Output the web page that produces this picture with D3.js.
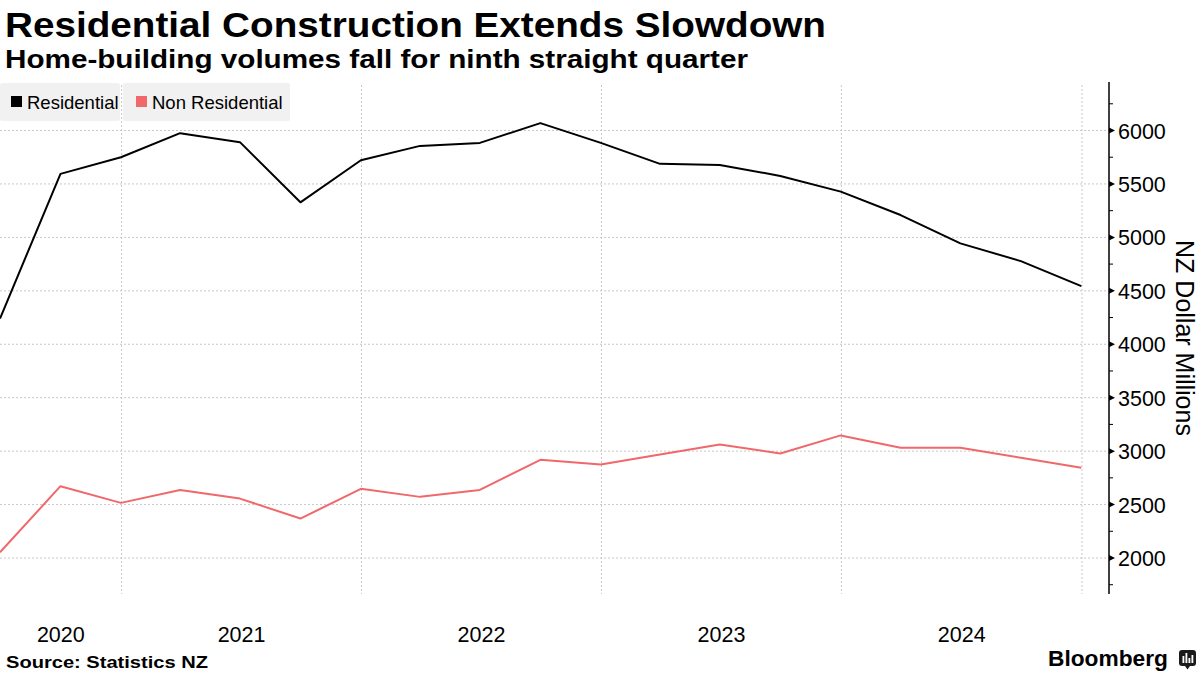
<!DOCTYPE html>
<html lang="en">

<head>
  <meta charset="utf-8">
  <title>Residential Construction Extends Slowdown</title>
  <script src="https://cdn.jsdelivr.net/npm/d3@7"></script>
  <style>
    body {
      margin: 0;
      background: #fff;
    }

    svg text {
      font-family: "Liberation Sans", Arial, sans-serif;
      fill: #000;
    }

    .grid line {
      stroke: #c8c8c8;
      stroke-width: 1;
      stroke-dasharray: 2, 2;
    }
  </style>
</head>

<body>
  <div id="chart"></div>
  <script>
    // quarterly data, quarter end dates
    const quarters = ['2020-06-30', '2020-09-30', '2020-12-31', '2021-03-31', '2021-06-30', '2021-09-30',
      '2021-12-31', '2022-03-31', '2022-06-30', '2022-09-30', '2022-12-31', '2023-03-31', '2023-06-30',
      '2023-09-30', '2023-12-31', '2024-03-31', '2024-06-30', '2024-09-30', '2024-12-31']
    const residential = [4241, 5594, 5750, 5975, 5891, 5328, 5722, 5856, 5884, 6069,
      5884, 5688, 5678, 5575, 5428, 5209, 4944, 4778, 4544]
    const nonResidential = [2053, 2672, 2516, 2637, 2556, 2369, 2647, 2572, 2637, 2919,
      2875, 2969, 3062, 2978, 3147, 3031, 3031, 2938, 2844]
    const seriesNames = ['Residential', 'Non Residential']
    const years = [2020, 2021, 2022, 2023, 2024]
    const yTicks = [2000, 2500, 3000, 3500, 4000, 4500, 5000, 5500, 6000]
    const yMinorTicks = [1750, 2250, 2750, 3250, 3750, 4250, 4750, 5250, 5750, 6250]

    const width = 1200
    const height = 675
    const colors = ['#000000', '#f0686b']

    const parse = d3.timeParse('%Y-%m-%d')
    const dates = quarters.map(parse)

    const plot = { left: 0, right: 1082, top: 85, bottom: 594 }
    const axisX = 1109

    const x = d3.scaleTime()
      .domain([parse('2020-06-30'), parse('2025-01-01')])
      .range([plot.left, plot.right])
    const y = d3.scaleLinear()
      .domain([2000, 6000])
      .range([558, 130.5])

    const svg = d3.select('#chart')
      .append('svg')
      .attr('width', width)
      .attr('height', height)

    // titles
    svg.append('text')
      .attr('x', 5).attr('y', 37)
      .attr('font-size', 35).attr('font-weight', 'bold')
      .attr('textLength', 821).attr('lengthAdjust', 'spacingAndGlyphs')
      .text('Residential Construction Extends Slowdown')
    svg.append('text')
      .attr('x', 5).attr('y', 68)
      .attr('font-size', 25.5).attr('font-weight', 'bold')
      .attr('textLength', 743).attr('lengthAdjust', 'spacingAndGlyphs')
      .text('Home-building volumes fall for ninth straight quarter')

    // grid
    const grid = svg.append('g').attr('class', 'grid')
    grid.selectAll('.h')
      .data(yTicks)
      .enter()
      .append('line')
      .attr('x1', 0).attr('x2', axisX)
      .attr('y1', d => y(d)).attr('y2', d => y(d))
    grid.selectAll('.v')
      .data(years.slice(1).concat([2025]))
      .enter()
      .append('line')
      .attr('x1', d => x(new Date(d, 0, 1))).attr('x2', d => x(new Date(d, 0, 1)))
      .attr('y1', plot.top).attr('y2', plot.bottom)

    // legend
    const legend = svg.append('g')
    const legendBoxes = [[0, 120], [123, 167]]
    legend.selectAll('rect.box')
      .data(legendBoxes)
      .enter()
      .append('rect')
      .attr('x', d => d[0]).attr('y', 83)
      .attr('width', d => d[1]).attr('height', 38)
      .attr('rx', 2)
      .attr('fill', '#f1f1f1')
    const legendX = [11, 136]
    seriesNames.forEach((name, i) => {
      legend.append('rect')
        .attr('x', legendX[i]).attr('y', 96)
        .attr('width', 11).attr('height', 11)
        .attr('fill', colors[i])
      legend.append('text')
        .attr('x', legendX[i] + 16).attr('y', 108.5)
        .attr('font-size', 18.5)
        .text(name)
    })

    // lines
    const line = d3.line()
      .x((d, i) => x(dates[i]))
      .y(d => y(d))
    ;[residential, nonResidential].forEach((values, i) => {
      svg.append('path')
        .datum(values)
        .attr('fill', 'none')
        .attr('stroke', colors[i])
        .attr('stroke-width', 2)
        .attr('stroke-linejoin', 'round')
        .attr('d', line)
    })

    // right axis
    const axis = svg.append('g')
    axis.append('line')
      .attr('x1', axisX).attr('x2', axisX)
      .attr('y1', plot.top - 3).attr('y2', plot.bottom)
      .attr('stroke', '#000').attr('stroke-width', 1.5)
    axis.selectAll('.minor')
      .data(yMinorTicks)
      .enter()
      .append('line')
      .attr('x1', axisX).attr('x2', axisX + 4)
      .attr('y1', d => y(d)).attr('y2', d => y(d))
      .attr('stroke', '#000').attr('stroke-width', 1)
    axis.selectAll('.major')
      .data(yTicks)
      .enter()
      .append('path')
      .attr('d', d => `M${axisX},${y(d) - 3}L${axisX + 6},${y(d)}L${axisX},${y(d) + 3}Z`)
      .attr('fill', '#000')
    axis.selectAll('.label')
      .data(yTicks)
      .enter()
      .append('text')
      .attr('x', axisX + 9)
      .attr('y', d => y(d) + 8)
      .attr('font-size', 21.5)
      .text(d => d)
    svg.append('text')
      .attr('transform', 'translate(1176, 338) rotate(90)')
      .attr('text-anchor', 'middle')
      .attr('font-size', 25)
      .text('NZ Dollar Millions')

    // year labels centred in each visible year
    svg.selectAll('.year')
      .data(years)
      .enter()
      .append('text')
      .attr('x', d => (Math.max(plot.left, x(new Date(d, 0, 1))) + x(new Date(d + 1, 0, 1))) / 2)
      .attr('y', 642)
      .attr('text-anchor', 'middle')
      .attr('font-size', 21.5)
      .text(d => d)

    // footer
    svg.append('text')
      .attr('x', 6).attr('y', 668)
      .attr('font-size', 17).attr('font-weight', 'bold')
      .attr('textLength', 202).attr('lengthAdjust', 'spacingAndGlyphs')
      .text('Source: Statistics NZ')
    svg.append('text')
      .attr('x', 1048).attr('y', 666)
      .attr('font-size', 22).attr('font-weight', 'bold')
      .attr('textLength', 120).attr('lengthAdjust', 'spacingAndGlyphs')
      .text('Bloomberg')
    const logo = svg.append('g').attr('transform', 'translate(1179, 650)')
    logo.append('rect')
      .attr('width', 17).attr('height', 16).attr('rx', 3)
      .attr('fill', '#1a1a1a')
    logo.append('path')
      .attr('d', 'M6,16L8.5,19.5L11,16Z')
      .attr('fill', '#1a1a1a')
    const bars = [[3.5, 6], [6.5, 3], [9.5, 8], [12.5, 5]]
    logo.selectAll('.bar')
      .data(bars)
      .enter()
      .append('rect')
      .attr('x', d => d[0]).attr('y', d => d[1])
      .attr('width', 1.8).attr('height', d => 13 - d[1])
      .attr('fill', '#fff')
  </script>
</body>

</html>
